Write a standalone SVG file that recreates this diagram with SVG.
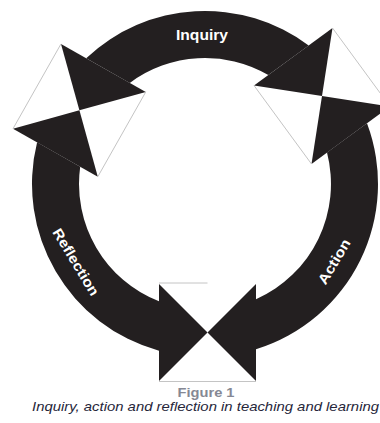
<svg xmlns="http://www.w3.org/2000/svg" width="380" height="423" viewBox="0 0 380 423">
<style>
.blk{fill:#231f20;stroke:none}
.gl{stroke:#c4c4c4;stroke-width:1;fill:none}
.lbl{font-family:"Liberation Sans",Arial,sans-serif;font-weight:bold;font-size:14px;fill:#ffffff;text-anchor:middle}
.fig{font-family:"Liberation Sans",Arial,sans-serif;font-weight:bold;font-size:12.5px;fill:#858894;text-anchor:middle}
.cap{font-family:"Liberation Sans",Arial,sans-serif;font-style:italic;font-size:13.5px;fill:#26263a}
</style>
<rect width="380" height="423" fill="#ffffff"/>
<g id="connectors">
  <g id="arrow-inquiry">
    <path class="blk" d="M86.2,58.2 A173,173 0 0 1 308.7,45.5 L268.3,75 A126,126 0 0 0 129.8,82.9 Z"/>
    <text class="lbl" x="202" y="40" textLength="52" lengthAdjust="spacingAndGlyphs">Inquiry</text>
  </g>
  <g id="arrow-reflection">
    <path class="blk" d="M37.1,142.3 A173,173 0 0 0 159,350.8 L159,301.3 A126,126 0 0 1 80.2,166.7 Z"/>
    <text class="lbl" transform="translate(76,262) rotate(58.8)" x="0" y="5" textLength="76" lengthAdjust="spacingAndGlyphs">Reflection</text>
  </g>
  <g id="arrow-action">
    <path class="blk" d="M256,349.3 A173,173 0 0 0 367,123.3 L327,152.6 A126,126 0 0 1 256,299.2 Z"/>
    <text class="lbl" transform="translate(334,261.5) rotate(-59)" x="0" y="5" textLength="50" lengthAdjust="spacingAndGlyphs">Action</text>
  </g>
</g>
<g id="junction-top-left">
  <polygon class="blk" points="61,43.9 145.8,91.9 79.4,110.3"/>
  <polygon class="blk" points="13,128.7 97.8,176.7 79.4,110.3"/>
  <line class="gl" x1="61" y1="43.9" x2="13" y2="128.7"/>
  <line class="gl" x1="145.8" y1="91.9" x2="97.8" y2="176.7"/>
</g>
<g id="junction-top-right">
  <polygon class="blk" points="332.5,28 254,85.5 322,96"/>
  <polygon class="blk" points="311.5,164 390,106.5 322,96"/>
  <line class="gl" x1="332.5" y1="28" x2="390" y2="106.5"/>
  <line class="gl" x1="254" y1="85.5" x2="311.5" y2="164"/>
</g>
<g id="junction-bottom">
  <polygon class="blk" points="159,284 159,381 207.5,332.5"/>
  <polygon class="blk" points="256,284 256,381 207.5,332.5"/>
  <line class="gl" x1="159" y1="283" x2="207.5" y2="283"/>
  <line class="gl" x1="159" y1="381.5" x2="256" y2="381.5"/>
</g>
<g id="caption">
  <text class="fig" x="206" y="397" textLength="57" lengthAdjust="spacingAndGlyphs">Figure 1</text>
  <text class="cap" x="32" y="411" textLength="347" lengthAdjust="spacingAndGlyphs">Inquiry, action and reflection in teaching and learning</text>
</g>
</svg>
